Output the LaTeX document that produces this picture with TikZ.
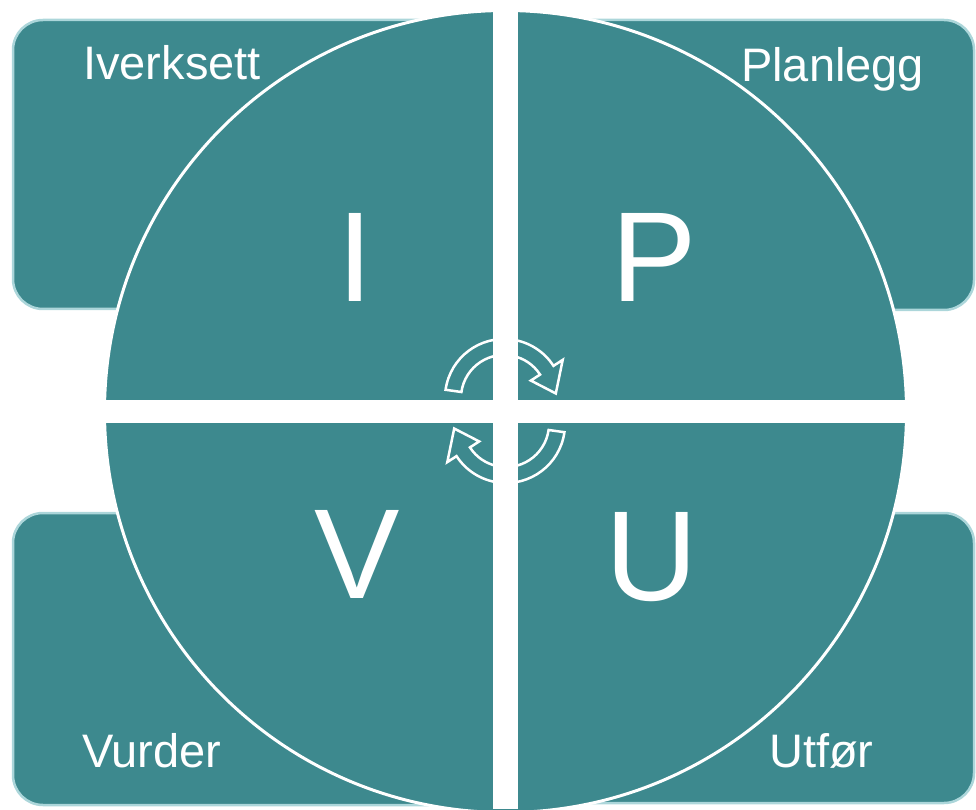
\documentclass[tikz,border=0pt]{standalone}
\usepackage{fontspec}
\setmainfont{Liberation Sans}
\definecolor{teal1}{RGB}{61,137,142}
\definecolor{glow}{RGB}{172,214,218}
\begin{document}
\begin{tikzpicture}[x=1pt,y=1pt,
  box/.style={fill=teal1,draw=glow,line width=2.5pt,rounded corners=30pt},
  lbl/.style={text=white,inner sep=0pt,font=\fontsize{47}{56}\selectfont},
  big/.style={text=white,inner sep=0pt,anchor=base,font=\fontsize{128}{150}\selectfont},
  cyc/.style={draw=white,line width=2.5pt,line join=miter}]
\useasboundingbox (0,0) rectangle (976,809);
% rounded background boxes
\draw[box] (13,500) rectangle (470,789);
\draw[box] (541,499) rectangle (974,789);
\draw[box] (13,4) rectangle (470,296);
\draw[box] (541,6) rectangle (974,296);
% circle
\fill[teal1] (505.5,397.5) circle[radius=401];
\draw[white,line width=3pt] (505.5,397.5) circle[radius=401];
% white cross
\fill[white] (493,0) rectangle (518,809);
\fill[white] (100,386) rectangle (912,409);
% labels
\node[lbl,anchor=base west] (iverksett) at (83,729) {Iverksett};
\node[lbl,anchor=base west] (planlegg) at (741,727) {Planlegg};
\node[lbl,anchor=base west] (vurder) at (82,42) {Vurder};
\node[lbl,anchor=base west] (utfor) at (769,42) {Utfør};
% big letters
\node[big] (I) at (355,507) {I};
\node[big] (P) at (654,507) {P};
\node[big] (V) at (357,211) {V};
\node[big] (U) at (652,209) {U};
% cycle arrows
\begin{scope}[shift={(504,411)}]
\draw[cyc] (172:59) arc[start angle=172,end angle=33,radius=59]
  -- (33:70) -- (5:52) -- (33:32) -- (33:43)
  arc[start angle=33,end angle=172,radius=43] -- cycle;
\end{scope}
\begin{scope}[shift={(506,385)},rotate=180]
\draw[cyc] (172:59) arc[start angle=172,end angle=33,radius=59]
  -- (33:70) -- (5:52) -- (33:32) -- (33:43)
  arc[start angle=33,end angle=172,radius=43] -- cycle;
\end{scope}
\end{tikzpicture}
\end{document}
